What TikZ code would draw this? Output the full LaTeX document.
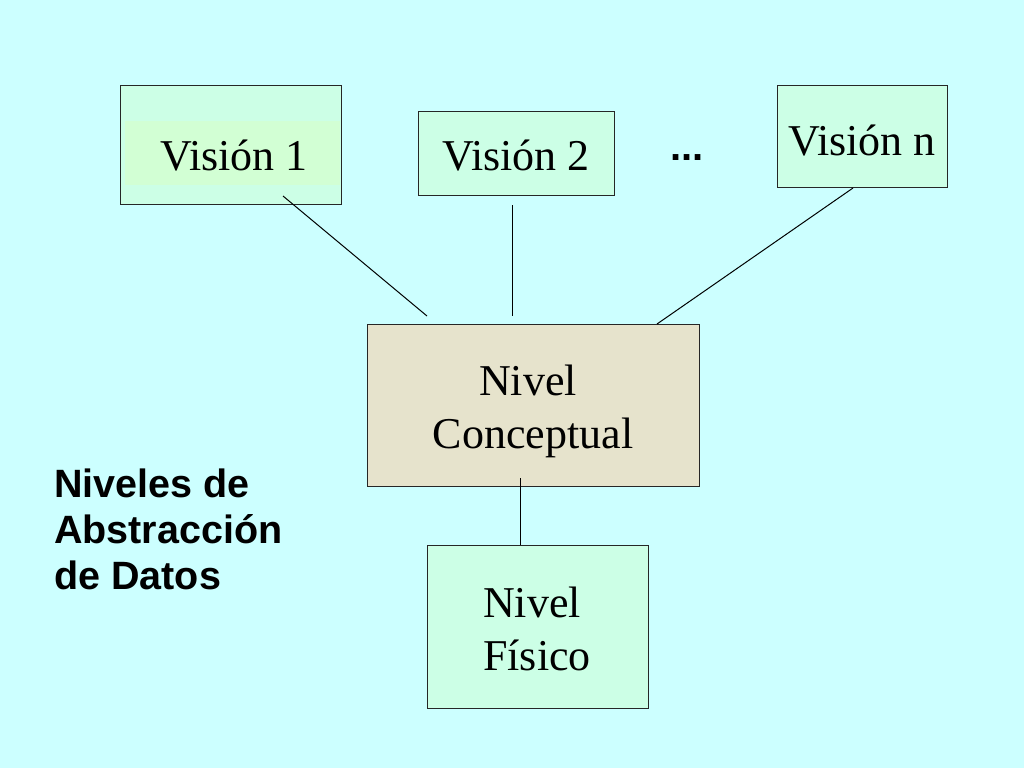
\documentclass[tikz,border=0pt]{standalone}
\usepackage{fontspec}
\setmainfont{Liberation Serif}
\newfontfamily\sansbold{Liberation Sans}
\definecolor{bgcyan}{RGB}{204,255,255}
\definecolor{mint}{RGB}{204,255,230}
\definecolor{mintin}{RGB}{210,255,212}
\definecolor{beige}{RGB}{230,227,204}
\tikzset{
  box/.style={draw=black!85, line width=1.2pt, inner sep=0pt, anchor=north west},
  lbl/.style={inner sep=0pt, anchor=base, font=\fontsize{44}{53}\selectfont, align=center},
  conn/.style={draw=black, line width=1pt},
}
\begin{document}
\begin{tikzpicture}[x=1pt,y=-1pt]
\fill[bgcyan] (0,0) rectangle (1024,768);
\useasboundingbox (0,0) rectangle (1024,768);
% boxes
\node[box, fill=mint, minimum width=221pt, minimum height=119pt] (v1) at (120,85) {};
\fill[mintin] (125,121) rectangle (340,185);
\node[box, fill=mint, minimum width=196pt, minimum height=84pt] (v2) at (418,111) {};
\node[box, fill=mint, minimum width=170pt, minimum height=102pt] (vn) at (777,85) {};
\node[box, fill=beige, minimum width=332pt, minimum height=162pt] (nc) at (367,324) {};
\node[box, fill=mint, minimum width=221pt, minimum height=163pt] (nf) at (427,545) {};
% texts
\node[lbl] (t1) at (234,170) {Visión 1};
\node[lbl] (t2) at (516,170) {Visión 2};
\node[lbl] (tn) at (862,155) {Visión n};
\node[lbl, font=\fontsize{40}{48}\sansbold\bfseries] (dots) at (687,160) {...};
\node[lbl] (tc1) at (528,395) {Nivel};
\node[lbl] (tc2) at (533,448) {Conceptual};
\node[lbl] (tf1) at (532,617) {Nivel};
\node[lbl] (tf2) at (537,670) {Físico};
\node[inner sep=0pt, anchor=base west, align=left, font=\fontsize{39.5}{46}\sansbold\bfseries] (title) at (54,589) {Niveles de\\Abstracción\\de Datos};
% connector ends
\coordinate (a1) at (283,196); \coordinate (b1) at (427,316);
\coordinate (a2) at (512,205); \coordinate (b2) at (512,316);
\coordinate (an) at (853,188); \coordinate (bn) at (657,324);
\coordinate (ac) at (520,478); \coordinate (bc) at (520,545);
\draw[conn] (a1) -- (b1);
\draw[conn] (a2) -- (b2);
\draw[conn] (an) -- (bn);
\draw[conn] (ac) -- (bc);
\end{tikzpicture}
\end{document}
